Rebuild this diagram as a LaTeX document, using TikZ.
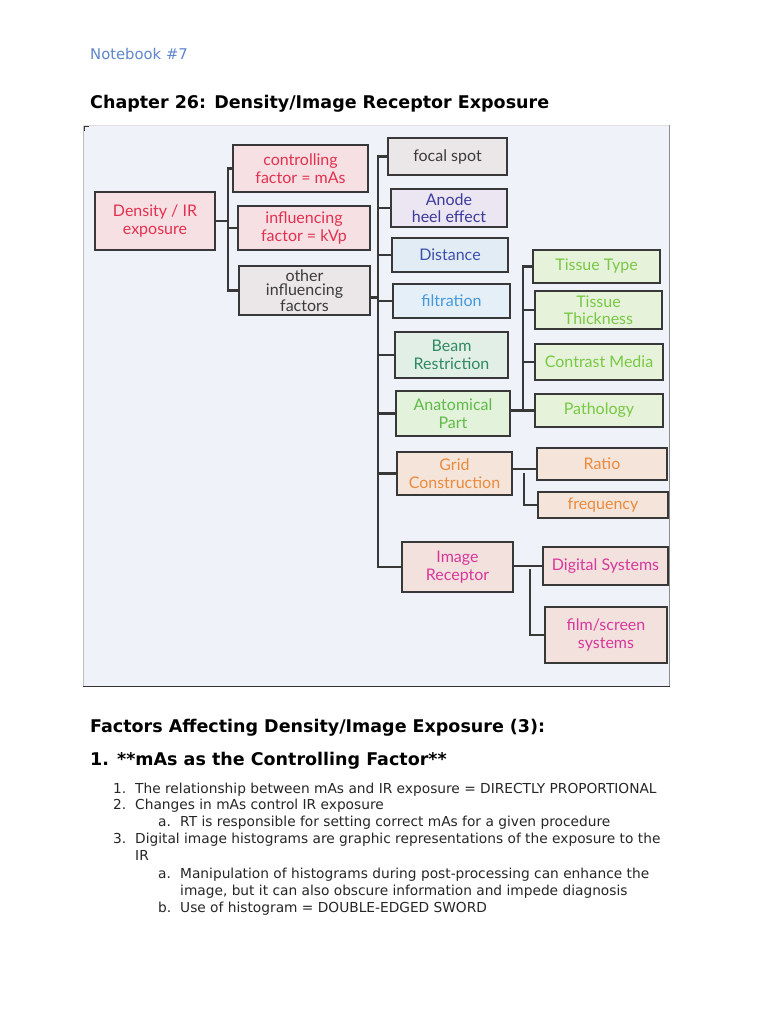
\documentclass[tikz,border=0pt]{standalone}
\usepackage{fontspec}
\setmainfont{DejaVu Sans}
\newfontfamily\hand{Lato}
\usetikzlibrary{calc}
\definecolor{nbblue}{HTML}{5F86CC}
\definecolor{photo}{HTML}{EFF2F8}
\definecolor{ink}{HTML}{383838}
\definecolor{redfill}{HTML}{F6E0E4}\definecolor{redtxt}{HTML}{E2304F}
\definecolor{grayfill}{HTML}{EBE7E8}\definecolor{graytxt}{HTML}{3B3B3B}
\definecolor{lavfill}{HTML}{ECE6F2}\definecolor{lavtxt}{HTML}{3C3A9C}
\definecolor{bluefill}{HTML}{E2ECF5}\definecolor{bluetxt}{HTML}{3D4FAE}
\definecolor{skyfill}{HTML}{E4EFF7}\definecolor{skytxt}{HTML}{4498DC}
\definecolor{tealfill}{HTML}{E2EFE6}\definecolor{tealtxt}{HTML}{2E8A60}
\definecolor{grnfill}{HTML}{E3F2DA}\definecolor{grntxt}{HTML}{5FBB48}
\definecolor{limefill}{HTML}{E6F3DA}\definecolor{limetxt}{HTML}{78C843}
\definecolor{orfill}{HTML}{F5E4D9}\definecolor{ortxt}{HTML}{EA8A3C}
\definecolor{mgfill}{HTML}{F3E1DE}\definecolor{mgtxt}{HTML}{D8389C}
\begin{document}
\begin{tikzpicture}[x=1pt,y=-1pt,
  box/.style={draw=ink, line width=1.4pt, inner sep=2pt, align=center,
    font=\hand\fontsize{16}{17.5}\selectfont},
  redbox/.style={box, fill=redfill, text=redtxt},
  graybox/.style={box, fill=grayfill, text=graytxt},
  lavbox/.style={box, fill=lavfill, text=lavtxt},
  bluebox/.style={box, fill=bluefill, text=bluetxt},
  skybox/.style={box, fill=skyfill, text=skytxt},
  tealbox/.style={box, fill=tealfill, text=tealtxt},
  grnbox/.style={box, fill=grnfill, text=grntxt},
  limebox/.style={box, fill=limefill, text=limetxt},
  orbox/.style={box, fill=orfill, text=ortxt},
  mgbox/.style={box, fill=mgfill, text=mgtxt},
  wh/.style 2 args={minimum width=#1pt, minimum height=#2pt},
  conn/.style={draw=ink, line width=2.1pt, line cap=rect, line join=miter},
  txt/.style={anchor=base west, inner sep=0pt, font=\fontsize{13.75}{15}\selectfont, text=black!85},
  head/.style={anchor=base west, inner sep=0pt, font=\bfseries\fontsize{17.5}{20}\selectfont, text=black}
]
\useasboundingbox[fill=white] (0,0) rectangle (768,1024);

% header texts
\node[anchor=base west, inner sep=0pt, font=\fontsize{14.8}{16}\selectfont, text=nbblue] (nb) at (90,60) {Notebook \#7};
\node[head] (chap) at (90,109) {Chapter 26: Density/Image Receptor Exposure};

% photo frame
\fill[photo] (83,125) rectangle (670,687);
\draw[black!25, line width=1pt] (83.5,125) -- (83.5,687);
\draw[black!12, line width=0.8pt] (83,125.5) -- (670,125.5);
\draw[black!45, line width=1.5pt] (669.5,125) -- (669.5,687);
\draw[black!80, line width=1.5pt] (83,686.5) -- (670,686.5);
\draw[black!80, line width=1pt] (84,131) -- (84,126.5) -- (89,126.5);

% connectors level 1 -> 2 (drawn first, boxes on top)
\coordinate (b1) at (228,0);
\coordinate (b2) at (378,0);
\coordinate (b3) at (523,0);
\coordinate (b4) at (524,0);
\coordinate (b5) at (530,0);

% level 1
\node[redbox, wh={120}{58}] (dens) at (155,221) {Density / IR\\exposure};
% level 2
\node[redbox, wh={135}{47}] (ctrl) at (300.5,168.5) {controlling\\factor = mAs};
\node[redbox, wh={132}{44}] (infl) at (304,228) {influencing\\factor = kVp};
\node[graybox, wh={131}{49}, font=\hand\fontsize{16}{14.5}\selectfont] (other) at (304.5,290.5) {other\\influencing\\factors};
% level 3
\node[graybox, wh={119}{37}] (focal) at (447.5,156.5) {focal spot};
\node[lavbox, wh={116}{38}] (anode) at (449,208) {Anode\\heel effect};
\node[bluebox, wh={116}{34}] (dist) at (450,255) {Distance};
\node[skybox, wh={117}{34}] (filt) at (451.5,301) {filtration};
\node[tealbox, wh={113}{46}] (beam) at (451.5,355) {Beam\\Restriction};
\node[grnbox, wh={114}{45}] (anat) at (453,413.5) {Anatomical\\Part};
\node[orbox, wh={115}{43}] (grid) at (454.5,473.5) {Grid\\Construction};
\node[mgbox, wh={111}{50}] (imgr) at (457.5,567) {Image\\Receptor};
% level 4
\node[limebox, wh={127}{33}] (ttype) at (596.5,266.5) {Tissue Type};
\node[limebox, wh={127}{38}] (tthick) at (598.5,310) {Tissue\\Thickness};
\node[limebox, wh={128}{36}] (contr) at (599,362) {Contrast Media};
\node[limebox, wh={128}{33}] (path) at (599,410.5) {Pathology};
\node[orbox, wh={130}{32}] (ratio) at (602,464) {Ratio};
\node[orbox, wh={130}{26}] (freq) at (603,505) {frequency};
\node[mgbox, wh={125}{38}] (digi) at (605.5,566) {Digital Systems};
\node[mgbox, wh={122}{56}] (film) at (606,635) {film/screen\\systems};

% connectors level 1 -> 2
\draw[conn] (dens.east) -- (dens.east -| b1);
\draw[conn] (ctrl.west) -- (ctrl.west -| b1) -- (other.west -| b1) -- (other.west);
\draw[conn] (infl.west -| b1) -- (infl.west);
% other -> level 3
\draw[conn] ($(other.east)+(0,7)$) -- ($(other.east -| b2)+(0,7)$);
\draw[conn] (focal.west) -- (focal.west -| b2) -- (imgr.west -| b2) -- (imgr.west);
\foreach \n in {anode,dist,filt,beam,anat,grid}
  \draw[conn] (\n.west -| b2) -- (\n.west);
% anatomical part -> tissue
\draw[conn] (path.west -| anat.east) -- (path.west);
\draw[conn] (ttype.west) -- (ttype.west -| b3) -- (path.west -| b3);
\foreach \n in {tthick,contr}
  \draw[conn] (\n.west -| b3) -- (\n.west);
% grid -> ratio, frequency
\draw[conn] ($(ratio.west -| grid.east)+(0,5)$) -- ($(ratio.west)+(0,5)$);
\draw[conn] ($(grid.east -| b4)+(0,1)$) -- (freq.west -| b4) -- (freq.west);
% image receptor -> digital, film
\draw[conn] (digi.west -| imgr.east) -- (digi.west);
\draw[conn] ($(imgr.east -| b5)+(0,3)$) -- (film.west -| b5) -- (film.west);

% text below
\node[head] (fact) at (90,732) {Factors Affecting Density/Image Exposure (3):};
\node[head] (mas) at (90,765) {1. **mAs as the Controlling Factor**};

\node[txt] (n1) at (113,793) {1.};
\node[txt] (t1) at (135,793) {The relationship between mAs and IR exposure = DIRECTLY PROPORTIONAL};
\node[txt] (n2) at (113,809) {2.};
\node[txt] (t2) at (135,809) {Changes in mAs control IR exposure};
\node[txt] (n2a) at (158,826) {a.};
\node[txt] (t2a) at (180,826) {RT is responsible for setting correct mAs for a given procedure};
\node[txt] (n3) at (113,843) {3.};
\node[txt] (t3) at (135,843) {Digital image histograms are graphic representations of the exposure to the};
\node[txt] (t3b) at (135,860) {IR};
\node[txt] (n3a) at (158,878) {a.};
\node[txt] (t3a) at (180,878) {Manipulation of histograms during post-processing can enhance the};
\node[txt] (t3a2) at (180,895) {image, but it can also obscure information and impede diagnosis};
\node[txt] (n3b) at (158,912) {b.};
\node[txt] (t3c) at (180,912) {Use of histogram = DOUBLE-EDGED SWORD};
\end{tikzpicture}
\end{document}
